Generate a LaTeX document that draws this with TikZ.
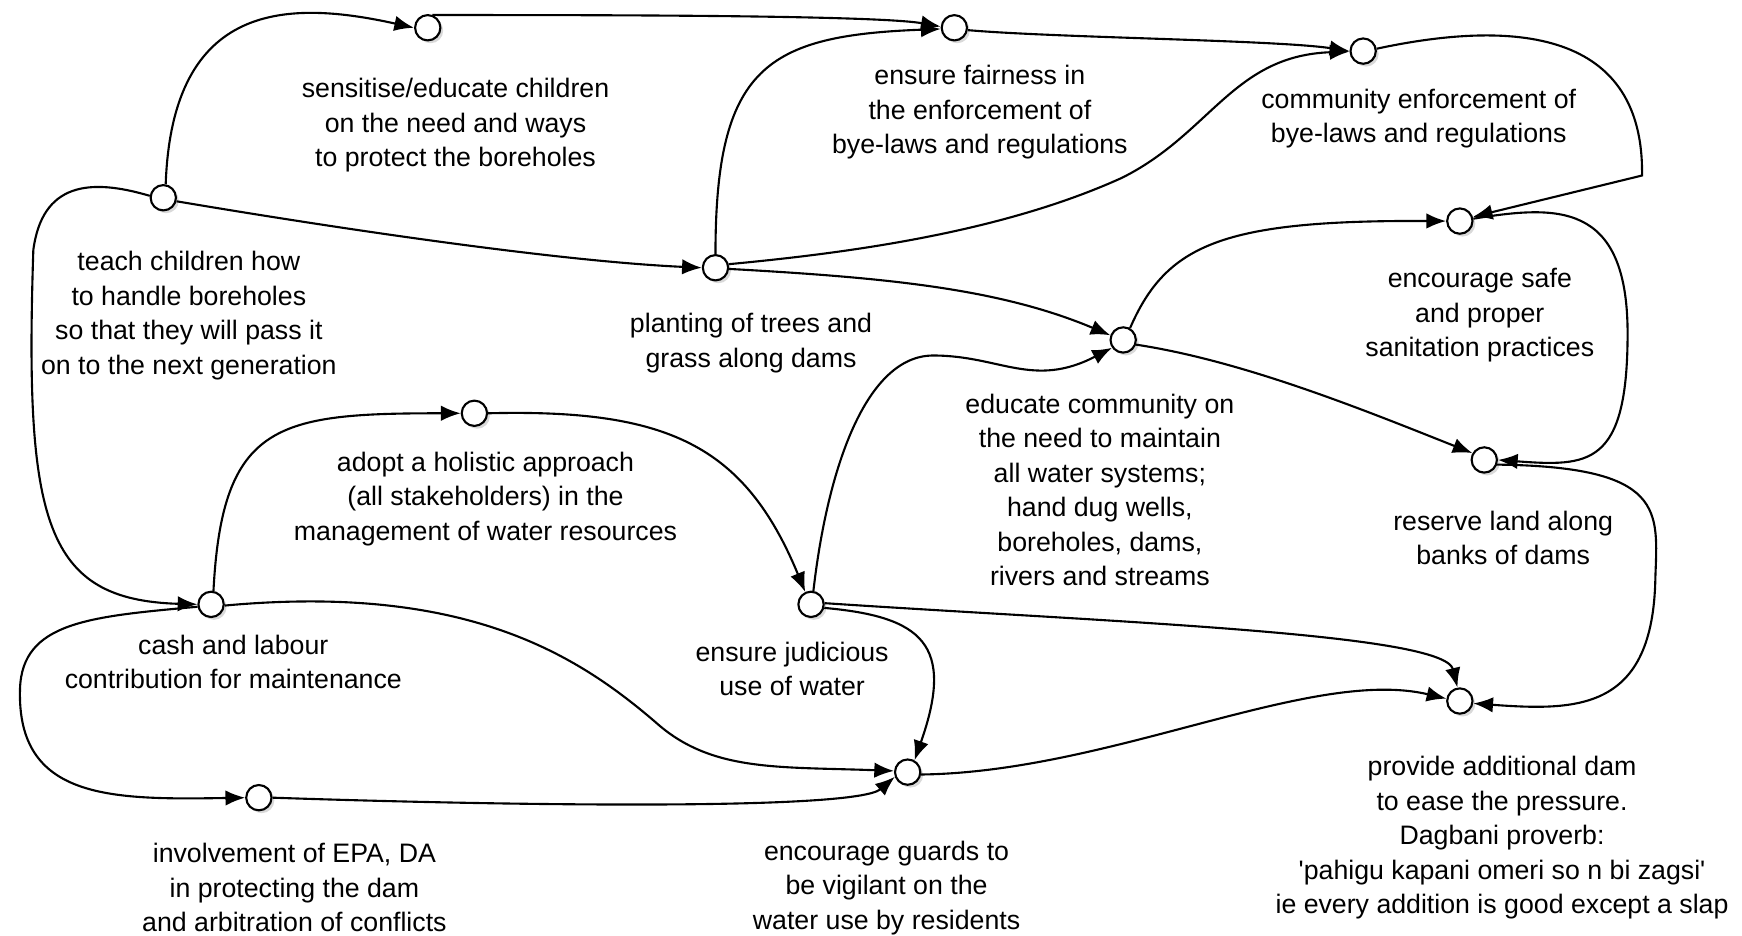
\documentclass[tikz,border=0pt]{standalone}
\usepackage{fontspec}
\setmainfont{Liberation Sans}
\usetikzlibrary{arrows.meta,shadows}
\begin{document}
\begin{tikzpicture}[x=0.01111cm,y=-0.01111cm,
  dot/.style={circle, draw, line width=0.6pt, fill=white, minimum size=7.2pt, inner sep=0pt,
    drop shadow={shadow xshift=0.8pt, shadow yshift=-0.8pt, opacity=0.3}},
  txt/.style={align=center, inner sep=0pt, font=\fontsize{7.6pt}{9.8pt}\selectfont},
  link/.style={line width=0.6pt, -{Latex[length=5.6pt,width=4.4pt]}}]
\useasboundingbox (0,0) rectangle (1568,842);

% causal loop nodes
\node[dot] (S)   at (385,25)  {};
\node[dot] (F)   at (859,25)  {};
\node[dot] (C)   at (1227,46) {};
\node[dot] (T)   at (147,178) {};
\node[dot] (P)   at (644,241) {};
\node[dot] (SAN) at (1314,199) {};
\node[dot] (E)   at (1011,306) {};
\node[dot] (R)   at (1336,414) {};
\node[dot] (H)   at (427,372) {};
\node[dot] (J)   at (730,544) {};
\node[dot] (CL)  at (190,544) {};
\node[dot] (PD)  at (1314,631) {};
\node[dot] (G)   at (817,695) {};
\node[dot] (EPA) at (233,718) {};

% labels
\node[txt] (Sl)   at (410,113)  {sensitise/educate children\\on the need and ways\\to protect the boreholes};
\node[txt] (Fl)   at (882,101)  {ensure fairness in\\the enforcement of\\bye-laws and regulations};
\node[txt] (Cl)   at (1277,107) {community enforcement of\\bye-laws and regulations};
\node[txt] (Tl)   at (170,284)  {teach children how\\to handle boreholes\\so that they will pass it\\on to the next generation};
\node[txt] (Pl)   at (676,309)  {planting of trees and\\grass along dams};
\node[txt] (SANl) at (1332,284) {encourage safe\\and proper\\sanitation practices};
\node[txt] (El)   at (990,441)  {educate community on\\the need to maintain\\all water systems;\\hand dug wells,\\boreholes, dams,\\rivers and streams};
\node[txt] (Rl)   at (1353,484) {reserve land along\\banks of dams};
\node[txt] (Hl)   at (437,449)  {adopt a holistic approach\\(all stakeholders) in the\\management of water resources};
\node[txt] (Jl)   at (713,602)  {ensure judicious\\use of water};
\node[txt] (CLl)  at (210,596)  {cash and labour\\contribution for maintenance};
\node[txt] (PDl)  at (1352,754) {provide additional dam\\to ease the pressure.\\Dagbani proverb:\\\textquotesingle pahigu kapani omeri so n bi zagsi\textquotesingle\\ie every addition is good except a slap};
\node[txt] (Gl)   at (798,799)  {encourage guards to\\be vigilant on the\\water use by residents};
\node[txt] (EPAl) at (265,799)  {involvement of EPA, DA\\in protecting the dam\\and arbitration of conflicts};

% connectors
\draw[link] (T.80) .. controls (155,0) and (260,0) .. (S.180);
\draw[link] (S.70) .. controls (410,14) and (780,12) .. (F.175);
\draw[link] (P.90) .. controls (644,60) and (690,32) .. (F.185);
\draw[link] (F.-10) .. controls (950,34) and (1150,36) .. (C.180);
\draw[link] (P.15) .. controls (760,228) and (900,210) .. (1010,160)
                   .. controls (1090,120) and (1110,50) .. (C.182);
\draw[link] (C.10) .. controls (1350,20) and (1480,20) .. (1478,158) -- (SAN.18);
\draw[link] (T.-15) .. controls (300,205) and (500,235) .. (P.180);
\draw[link] (T.172) .. controls (80,160) and (38,165) .. (30,225)
                    .. controls (22,470) and (40,540) .. (CL.180);
\draw[link] (CL.80) .. controls (200,380) and (250,372) .. (H.180);
\draw[link] (H.0) .. controls (600,368) and (670,400) .. (J.115);
\draw[link] (J.80) .. controls (745,420) and (780,320) .. (840,320)
                   .. controls (900,320) and (930,350) .. (E.215);
\draw[link] (P.-5) .. controls (800,250) and (900,260) .. (E.160);
\draw[link] (E.60) .. controls (1050,220) and (1100,198) .. (SAN.180);
\draw[link] (E.-20) .. controls (1120,325) and (1230,370) .. (R.150);
\draw[link] (SAN.10) .. controls (1400,185) and (1465,180) .. (1465,300)
                     .. controls (1465,420) and (1430,420) .. (R.0);
\draw[link] (R.-20) .. controls (1500,420) and (1492,460) .. (1490,520)
                    .. controls (1488,640) and (1420,640) .. (PD.-10);
\draw[link] (J.5) .. controls (1000,560) and (1300,570) .. (PD.100);
\draw[link] (J.-15) .. controls (830,555) and (860,580) .. (G.60);
\draw[link] (CL.-5) .. controls (420,525) and (520,590) .. (590,650)
                    .. controls (640,695) and (700,690) .. (G.175);
\draw[link] (CL.190) .. controls (80,555) and (20,560) .. (18,620)
                     .. controls (15,720) and (100,720) .. (EPA.180);
\draw[link] (EPA.0) .. controls (450,725) and (770,730) .. (G.200);
\draw[link] (G.-10) .. controls (1000,695) and (1180,600) .. (PD.170);
\end{tikzpicture}
\end{document}
